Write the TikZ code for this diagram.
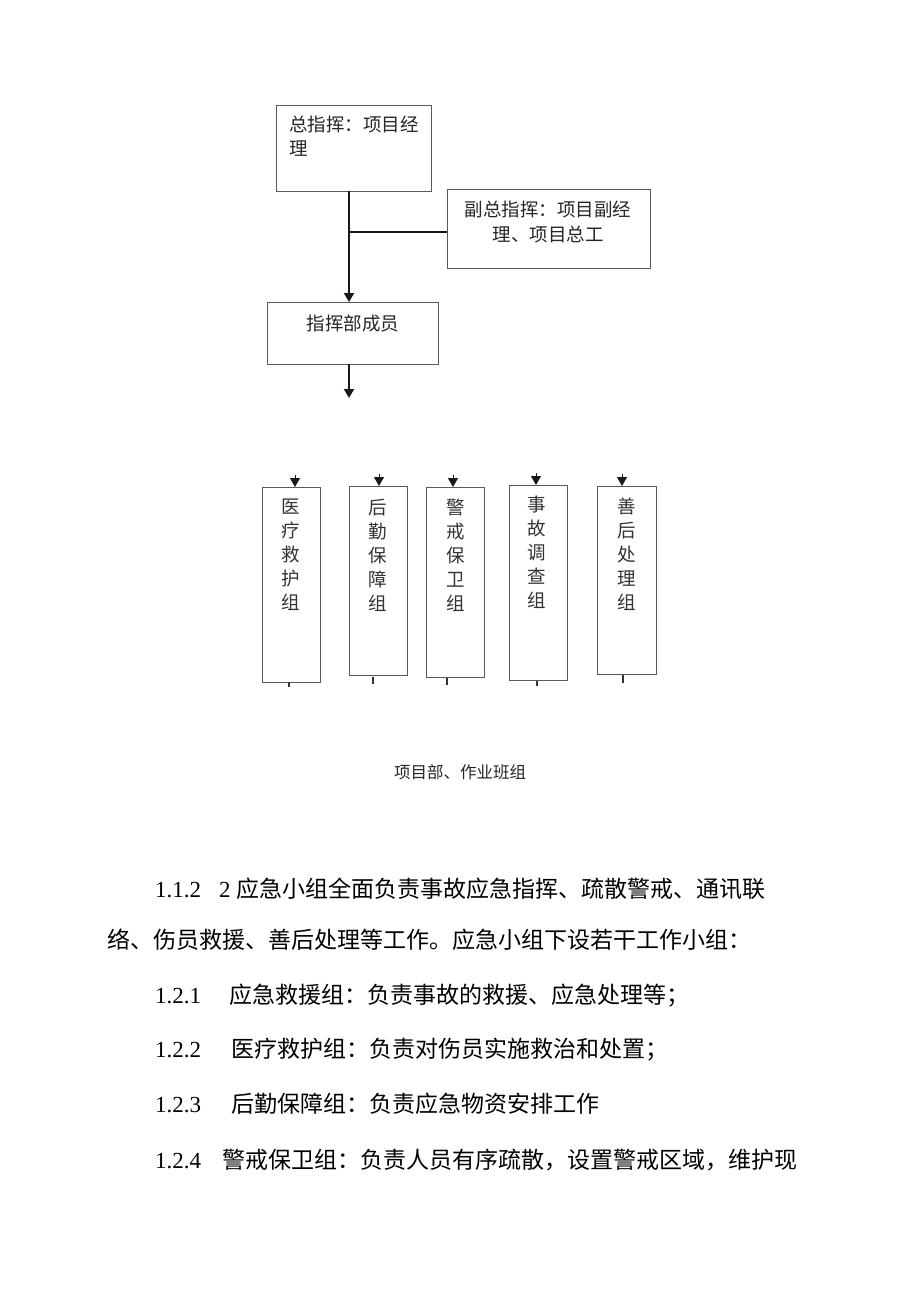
\documentclass[tikz,border=0pt]{standalone}
\usepackage{fontspec}
\setmainfont{Liberation Serif}
\newfontfamily\cjk{Noto Sans CJK SC}
\usetikzlibrary{arrows.meta}
\begin{document}
\begin{tikzpicture}[x=1pt,y=-1pt,
  box/.style={draw=black!65, line width=1.1pt, inner sep=0pt, anchor=north west},
  conn/.style={draw=black!90, line width=1.8pt},
  arr/.style={conn, -{Triangle[width=10pt,length=9pt]}},
  tickline/.style={draw=black!80, line width=1.2pt},
  bt/.style={font=\cjk\fontsize{18.5}{22}\selectfont, inner sep=0pt, text=black!85},
  col/.style={font=\cjk\fontsize{18.5}{24}\selectfont, inner sep=0pt, align=center, text=black!80},
  captext/.style={font=\cjk\fontsize{16.5}{16.5}\selectfont, inner sep=0pt, anchor=base, text=black!85},
  body/.style={font=\cjk\fontsize{23}{23}\selectfont, inner sep=0pt, anchor=base west},
  num/.style={font=\fontsize{23}{23}\selectfont, inner sep=0pt, anchor=base west},
]
\fill[white] (0,0) rectangle (920,1301);
\useasboundingbox (0,0) rectangle (920,1301);

% top boxes
\node[box, minimum width=155pt, minimum height=86pt] (zong) at (276,105) {};
\node[bt, anchor=base west] (zongt1) at (289,131) {总指挥：项目经};
\node[bt, anchor=base west] (zongt2) at (289,155) {理};

\node[box, minimum width=203pt, minimum height=79pt] (fu) at (447,189) {};
\node[bt, anchor=base] (fut1) at (548,216) {副总指挥：项目副经};
\node[bt, anchor=base] (fut2) at (548,241) {理、项目总工};

\node[box, minimum width=171pt, minimum height=62pt] (cy) at (267,302) {};
\node[bt, anchor=base] (cyt) at (353,330) {指挥部成员};

% connectors
\coordinate (a1) at (349,191);
\coordinate (a2) at (349,302);
\coordinate (j) at (349,232);
\coordinate (jf) at (447,232);
\coordinate (b1) at (349,364);
\coordinate (b2) at (349,398);
\draw[arr] (a1) -- (a2);
\draw[conn] (j) -- (jf);
\draw[arr] (b1) -- (b2);

% group boxes
\node[box, minimum width=58pt, minimum height=195pt] (g1) at (262,487) {};
\node[col] (g1t) at (291,555) {医\\疗\\救\\护\\组};
\node[box, minimum width=58pt, minimum height=189pt] (g2) at (349,486) {};
\node[col] (g2t) at (378,555) {后\\勤\\保\\障\\组};
\node[box, minimum width=58pt, minimum height=190pt] (g3) at (426,487) {};
\node[col] (g3t) at (456,555) {警\\戒\\保\\卫\\组};
\node[box, minimum width=58pt, minimum height=195pt] (g4) at (509,485) {};
\node[col] (g4t) at (537,552) {事\\故\\调\\查\\组};
\node[box, minimum width=59pt, minimum height=188pt] (g5) at (597,486) {};
\node[col] (g5t) at (627,554) {善\\后\\处\\理\\组};

% arrowheads above group boxes
\coordinate (h1a) at (295,475); \coordinate (h1b) at (295,487);
\coordinate (h2a) at (379,474); \coordinate (h2b) at (379,486);
\coordinate (h3a) at (453,475); \coordinate (h3b) at (453,487);
\coordinate (h4a) at (536,473); \coordinate (h4b) at (536,485);
\coordinate (h5a) at (622,474); \coordinate (h5b) at (622,486);
\draw[arr, line width=1pt] (h1a) -- (h1b);
\draw[arr, line width=1pt] (h2a) -- (h2b);
\draw[arr, line width=1pt] (h3a) -- (h3b);
\draw[arr, line width=1pt] (h4a) -- (h4b);
\draw[arr, line width=1pt] (h5a) -- (h5b);

% small ticks below group boxes
\coordinate (k1a) at (289,682); \coordinate (k1b) at (289,687);
\coordinate (k2a) at (373,677); \coordinate (k2b) at (373,684);
\coordinate (k3a) at (447,678); \coordinate (k3b) at (447,685);
\coordinate (k4a) at (537,681); \coordinate (k4b) at (537,686);
\coordinate (k5a) at (623,675); \coordinate (k5b) at (623,683);
\draw[tickline] (k1a) -- (k1b);
\draw[tickline] (k2a) -- (k2b);
\draw[tickline] (k3a) -- (k3b);
\draw[tickline] (k4a) -- (k4b);
\draw[tickline] (k5a) -- (k5b);

% caption
\node[captext] (caption) at (460,778) {项目部、作业班组};

% body text
\node[num] (n1) at (155,897) {1.1.2};
\node[num] (n1b) at (219,897) {2};
\node[body] (l1) at (236,897) {应急小组全面负责事故应急指挥、疏散警戒、通讯联};
\node[body] (l2) at (107,948) {络、伤员救援、善后处理等工作。应急小组下设若干工作小组：};
\node[num] (n3) at (155,1003) {1.2.1};
\node[body] (l3) at (229,1003) {应急救援组：负责事故的救援、应急处理等；};
\node[num] (n4) at (155,1057) {1.2.2};
\node[body] (l4) at (231,1057) {医疗救护组：负责对伤员实施救治和处置；};
\node[num] (n5) at (155,1112) {1.2.3};
\node[body] (l5) at (231,1112) {后勤保障组：负责应急物资安排工作};
\node[num] (n6) at (155,1168) {1.2.4};
\node[body] (l6) at (222,1168) {警戒保卫组：负责人员有序疏散，设置警戒区域，维护现};
\end{tikzpicture}
\end{document}
